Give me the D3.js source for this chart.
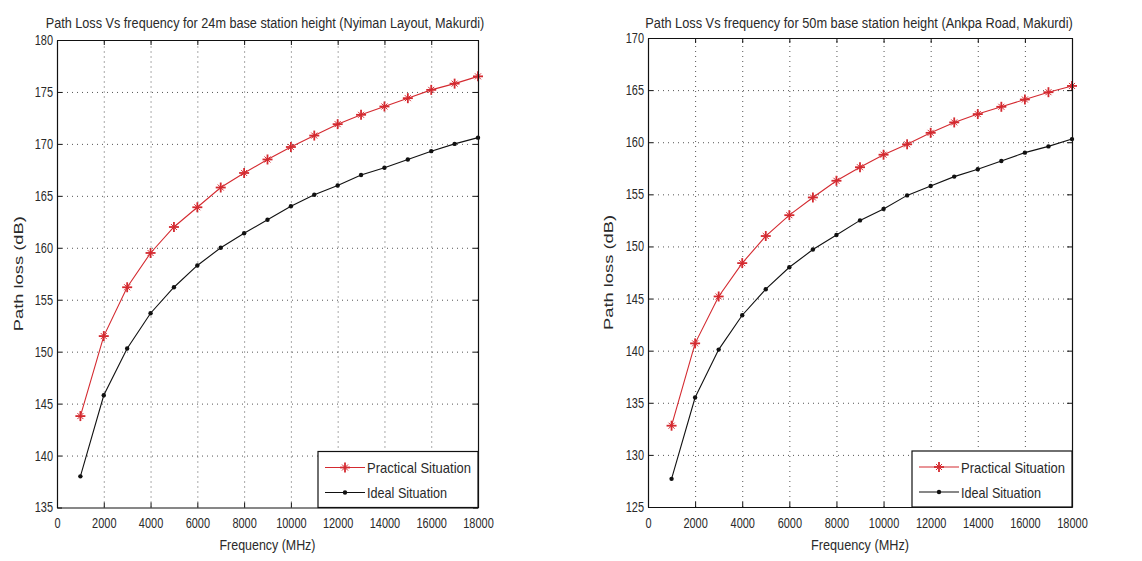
<!DOCTYPE html>
<html><head><meta charset="utf-8">
<script src="https://cdn.jsdelivr.net/npm/d3@7"></script>
<style>
body{margin:0;background:#fff;}
svg{display:block;}
text{font-family:"Liberation Sans",Arial,sans-serif;fill:#2a2a2a;}
</style></head><body>
<svg id="c" width="1142" height="561"></svg>
<script>
// ---- data ----
const frequencies = [1000,2000,3000,4000,5000,6000,7000,8000,9000,10000,11000,12000,13000,14000,15000,16000,17000,18000];
const practical24 = [143.8,151.5,156.2,159.5,162.0,163.9,165.8,167.2,168.5,169.7,170.8,171.9,172.8,173.6,174.4,175.2,175.8,176.5];
const ideal24     = [138.0,145.8,150.3,153.7,156.2,158.3,160.0,161.4,162.7,164.0,165.1,166.0,167.0,167.7,168.5,169.3,170.0,170.6];
const practical50 = [132.8,140.7,145.2,148.4,151.0,153.0,154.7,156.3,157.6,158.8,159.8,160.9,161.9,162.7,163.4,164.1,164.8,165.4];
const ideal50     = [127.7,135.5,140.1,143.4,145.9,148.0,149.7,151.1,152.5,153.6,154.9,155.8,156.7,157.4,158.2,159.0,159.6,160.3];
const xTicks   = [0,2000,4000,6000,8000,10000,12000,14000,16000,18000];
const yTicks24 = [135,140,145,150,155,160,165,170,175,180];
const yTicks50 = [125,130,135,140,145,150,155,160,165,170];
const seriesNames = ["Practical Situation","Ideal Situation"];
const titles = ["Path Loss Vs frequency for 24m base station height (Nyiman Layout, Makurdi)",
                "Path Loss Vs frequency for 50m base station height (Ankpa Road, Makurdi)"];
const xLabel = "Frequency (MHz)";
const yLabel = "Path loss (dB)";

const svg = d3.select("#c");
const RED = "#d42a30", BLACK = "#111";

const panels = [
  {l:57, r:478, t:40, b:507.5, yTicks:yTicks24, practical:practical24, ideal:ideal24, title:titles[0], titleW:439, titleX:265, ylx:23, xlW:96},
  {l:648, r:1072, t:38, b:507, yTicks:yTicks50, practical:practical50, ideal:ideal50, title:titles[1], titleW:428, titleX:859, ylx:613, xlW:98}
];

function asterisk(sel, r){
  sel.append("line").attr("x1",-r).attr("x2",r).attr("y1",0).attr("y2",0);
  sel.append("line").attr("x1",0).attr("x2",0).attr("y1",-r).attr("y2",r);
  const d = r*0.6;
  sel.append("line").attr("x1",-d).attr("x2",d).attr("y1",-d).attr("y2",d).attr("stroke-width",1);
  sel.append("line").attr("x1",-d).attr("x2",d).attr("y1",d).attr("y2",-d).attr("stroke-width",1);
}

const narrow = (s, perChar) => s.each(function(){
  const t = d3.select(this); const str = t.text();
  if(str.length) t.attr("textLength", str.length*perChar).attr("lengthAdjust","spacingAndGlyphs");
});

// place a centred text and squeeze it horizontally to a target width
function fitText(parent, str, cx, by, size, target){
  const t = parent.append("text").attr("text-anchor","middle").attr("font-size",size).text(str);
  const w = t.node().getComputedTextLength();
  const k = Math.min(1, target / w);
  t.attr("transform",`translate(${cx},${by}) scale(${k},1)`);
  return t;
}

panels.forEach(p => {
  const x = d3.scaleLinear().domain([0,18000]).range([p.l,p.r]);
  const y = d3.scaleLinear().domain([p.yTicks[0], p.yTicks[p.yTicks.length-1]]).range([p.b,p.t]);
  const g = svg.append("g");
  const H = p.b - p.t, W = p.r - p.l;

  // grid
  g.append("g").attr("transform",`translate(0,${p.b})`)
    .call(d3.axisBottom(x).tickValues(xTicks.slice(1,-1)).tickSize(-H).tickFormat(""))
    .call(s=>{s.select(".domain").remove(); s.selectAll("line").attr("stroke","#555").attr("stroke-dasharray","1,4");});
  g.append("g").attr("transform",`translate(${p.l},0)`)
    .call(d3.axisLeft(y).tickValues(p.yTicks.slice(1,-1)).tickSize(-W).tickFormat(""))
    .call(s=>{s.select(".domain").remove(); s.selectAll("line").attr("stroke","#555").attr("stroke-dasharray","1,4");});

  // lines
  const line = d3.line().x((d,i)=>x(frequencies[i])).y(d=>y(d));
  g.append("path").datum(p.practical).attr("d",line).attr("fill","none").attr("stroke",RED).attr("stroke-width",1.1);
  g.append("path").datum(p.ideal).attr("d",line).attr("fill","none").attr("stroke",BLACK).attr("stroke-width",1.1);

  // markers
  g.append("g").selectAll("g").data(p.practical).join("g")
    .attr("transform",(d,i)=>`translate(${x(frequencies[i])},${y(d)})`)
    .attr("stroke",RED).attr("stroke-width",1.8)
    .each(function(){asterisk(d3.select(this),5);});
  g.append("g").selectAll("circle").data(p.ideal).join("circle")
    .attr("cx",(d,i)=>x(frequencies[i])).attr("cy",d=>y(d)).attr("r",2.2).attr("fill",BLACK);

  // axes
  const styleAxis = s => { s.select(".domain").attr("stroke","#111").attr("stroke-width",1.2); s.selectAll(".tick line").attr("stroke","#111"); s.selectAll("text").attr("font-size",14).attr("fill","#2a2a2a").attr("font-family",null).call(narrow,6.1); };
  g.append("g").attr("transform",`translate(0,${p.b})`)
    .call(d3.axisBottom(x).tickValues(xTicks).tickSizeInner(-5).tickSizeOuter(0).tickPadding(11).tickFormat(d3.format("d")))
    .call(styleAxis);
  g.append("g").attr("transform",`translate(0,${p.t})`)
    .call(d3.axisTop(x).tickValues(xTicks).tickSizeInner(-5).tickSizeOuter(0).tickFormat(""))
    .call(styleAxis);
  g.append("g").attr("transform",`translate(${p.l},0)`)
    .call(d3.axisLeft(y).tickValues(p.yTicks).tickSizeInner(-5).tickSizeOuter(0).tickPadding(4).tickFormat(d3.format("d")))
    .call(styleAxis);
  g.append("g").attr("transform",`translate(${p.r},0)`)
    .call(d3.axisRight(y).tickValues(p.yTicks).tickSizeInner(-5).tickSizeOuter(0).tickFormat(""))
    .call(styleAxis);

  // title
  fitText(g, p.title, p.titleX, 28, 15, p.titleW);
  // axis labels
  fitText(g, xLabel, (p.l+p.r)/2, 550, 15, p.xlW);
  g.append("text").attr("transform",`translate(${p.ylx},${(p.t+p.b)/2}) rotate(-90)`).attr("text-anchor","middle")
    .attr("font-size",13).attr("textLength",115).attr("lengthAdjust","spacingAndGlyphs").text(yLabel);

  // legend
  const lw = 160, lh = 56;
  const lg = g.append("g").attr("transform",`translate(${p.r-lw},${p.b-lh})`);
  lg.append("rect").attr("width",lw).attr("height",lh).attr("fill","#fff").attr("stroke","#111").attr("stroke-width",1.2);
  const rows = [{name:seriesNames[0], color:RED, type:"ast", yy:16, w:104},{name:seriesNames[1], color:BLACK, type:"dot", yy:41, w:80}];
  rows.forEach(rw=>{
    lg.append("line").attr("x1",7).attr("x2",47).attr("y1",rw.yy).attr("y2",rw.yy).attr("stroke",rw.color).attr("stroke-width",1.1);
    if(rw.type==="ast"){
      const m = lg.append("g").attr("transform",`translate(27,${rw.yy})`).attr("stroke",rw.color).attr("stroke-width",1.8);
      asterisk(m,5);
    } else {
      lg.append("circle").attr("cx",27).attr("cy",rw.yy).attr("r",2.2).attr("fill",rw.color);
    }
    lg.append("text").attr("x",49).attr("y",rw.yy+5.5).attr("font-size",15)
      .attr("textLength",rw.w).attr("lengthAdjust","spacingAndGlyphs").text(rw.name);
  });
});
</script>
</body></html>
